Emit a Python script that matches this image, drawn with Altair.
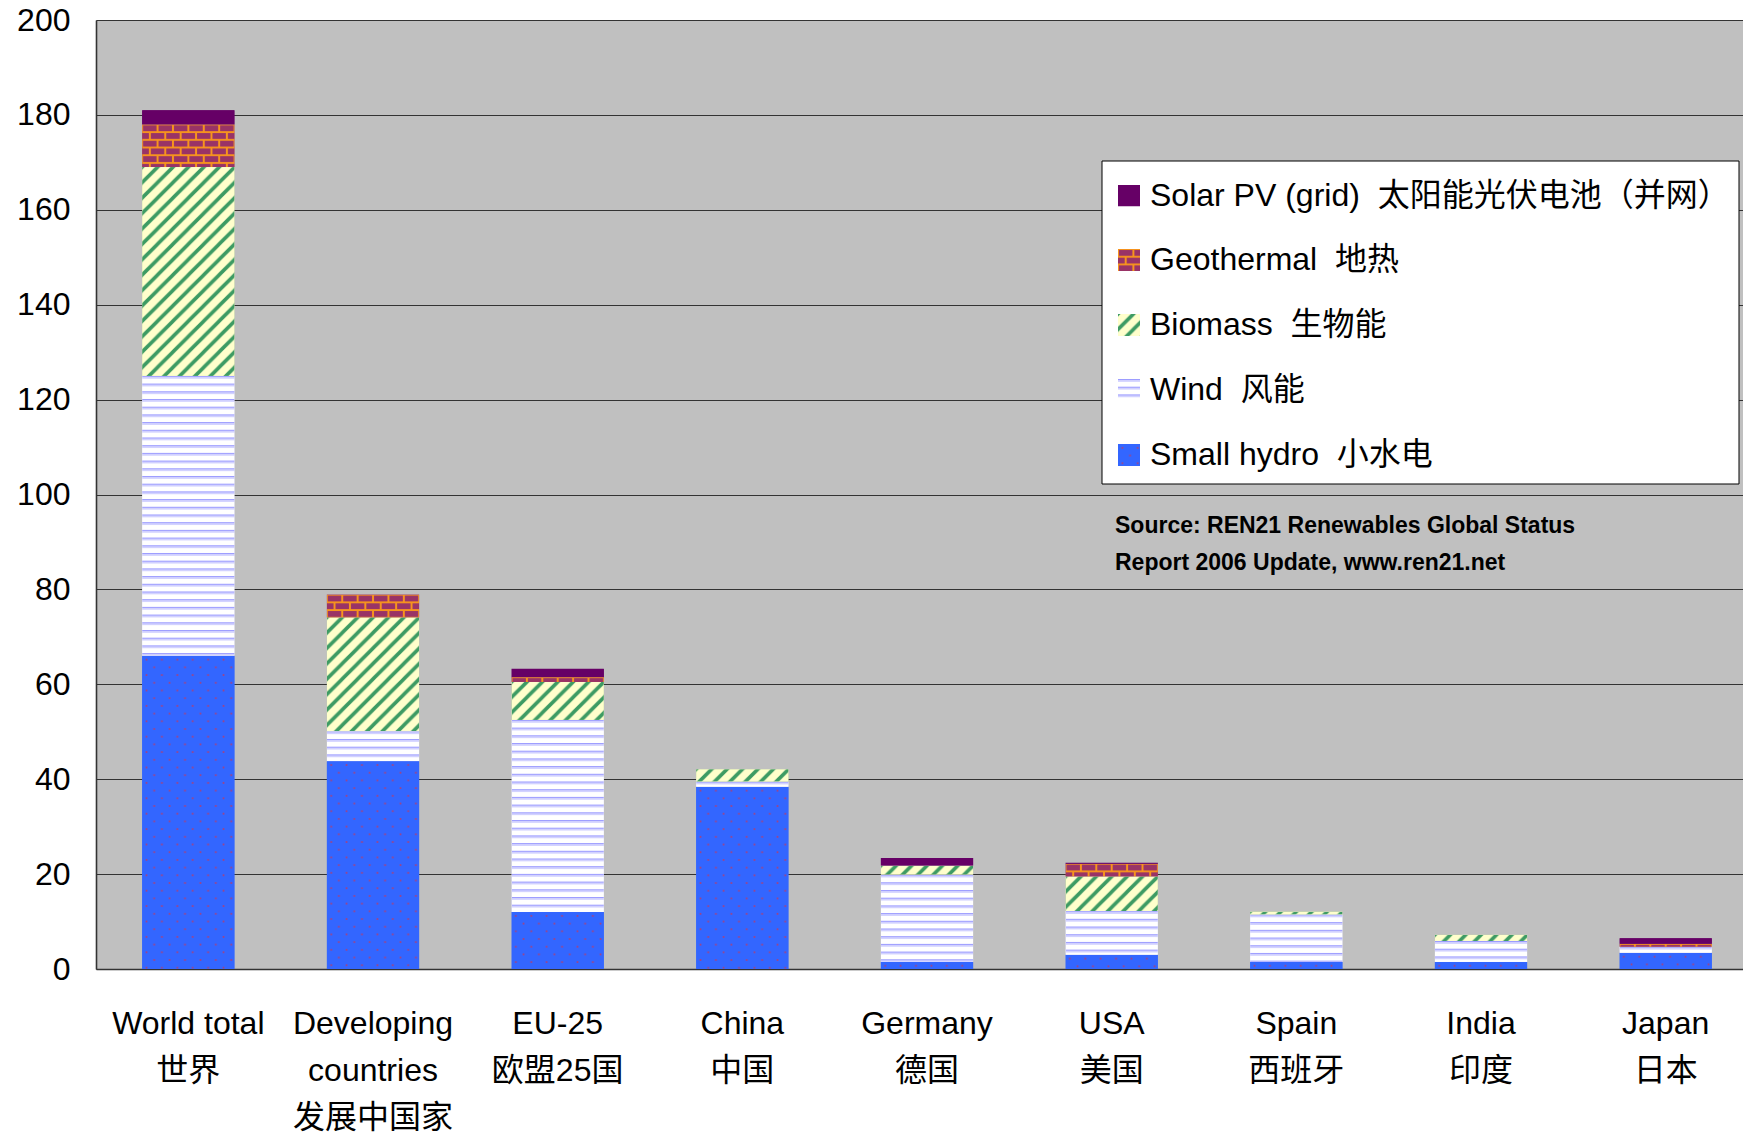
import altair as alt
import pandas as pd
from urllib.parse import quote

# ---------------- data ----------------
categories = [
    "World total\n世界",
    "Developing\ncountries\n发展中国家",
    "EU-25\n欧盟25国",
    "China\n中国",
    "Germany\n德国",
    "USA\n美国",
    "Spain\n西班牙",
    "India\n印度",
    "Japan\n日本",
]
sources = ["Small hydro", "Wind", "Biomass", "Geothermal", "Solar PV (grid)"]
small_hydro = [66, 43.8, 12, 38.4, 1.5, 3.0, 1.5, 1.5, 3.4]
wind = [59, 6.3, 40.5, 1.1, 18.4, 9.2, 10.0, 4.4, 1.3]
biomass = [44, 24, 8.0, 2.6, 1.9, 7.3, 0.6, 1.3, 0.0]
geothermal = [9, 4.8, 1.0, 0.0, 0.0, 2.7, 0.0, 0.0, 0.6]
solar_pv = [3, 0.0, 1.8, 0.0, 1.6, 0.2, 0.0, 0.0, 1.2]
NB = "\u00a0\u00a0"
legend_labels = [
    "Solar PV (grid)" + NB + "太阳能光伏电池（并网）",
    "Geothermal" + NB + "地热",
    "Biomass" + NB + "生物能",
    "Wind" + NB + "风能",
    "Small hydro" + NB + "小水电",
]
legend_sources = ["Solar PV (grid)", "Geothermal", "Biomass", "Wind", "Small hydro"]
source_note = ["Source: REN21 Renewables Global Status", "Report 2006 Update, www.ren21.net"]
y_ticks = [0, 20, 40, 60, 80, 100, 120, 140, 160, 180, 200]

# ---------------- table built from the arrays ----------------
series = [small_hydro, wind, biomass, geothermal, solar_pv]
rows = []
for ci, cat in enumerate(categories):
    base = 0.0
    for si, src in enumerate(sources):
        v = series[si][ci]
        rows.append(dict(category=cat, source=src, value=v, start=base, end=base + v))
        base += v
df = pd.DataFrame(rows)
df = df[df["value"] > 0].reset_index(drop=True)

# ---------------- fill patterns (SVG images tiled in pixels) ----------------
def svg_url(defs, fill="url(#p)"):
    svg = ("<svg xmlns='http://www.w3.org/2000/svg' width='100%' height='100%'>"
           f"<defs>{defs}</defs><rect width='100%' height='100%' fill='{fill}'/></svg>")
    return "data:image/svg+xml;charset=utf-8," + quote(svg)

patterns = {
    "Small hydro": svg_url(
        "<pattern id='p' width='15.4' height='15.4' patternUnits='userSpaceOnUse'>"
        "<rect width='16' height='16' fill='#3366ff'/>"
        "<rect x='3.5' y='3' width='1.7' height='1.7' fill='#a8407c'/>"
        "<rect x='11.2' y='10.7' width='1.7' height='1.7' fill='#a8407c'/>"
        "</pattern>"),
    "Wind": svg_url(
        "<pattern id='p' width='16' height='7.7' patternUnits='userSpaceOnUse'>"
        "<rect width='16' height='7.7' fill='#ffffff'/>"
        "<rect y='0' width='16' height='1.4' fill='#9c9cff'/>"
        "<rect y='1.4' width='16' height='1.4' fill='#cfcfff'/>"
        "</pattern>"),
    "Biomass": svg_url(
        "<pattern id='p' width='15.4' height='15.4' patternUnits='userSpaceOnUse'>"
        "<rect width='15.4' height='15.4' fill='#ffffcc'/>"
        "<path d='M-3.85,3.85 L3.85,-3.85 M-1,16.4 L16.4,-1 M11.55,19.25 L19.25,11.55' "
        "stroke='#3d9b63' stroke-width='3.6'/>"
        "</pattern>"),
    "Geothermal": svg_url(
        "<pattern id='p' width='15.4' height='15.4' patternUnits='userSpaceOnUse'>"
        "<rect width='15.4' height='15.4' fill='#f7941d'/>"
        "<rect x='1' y='1' width='13.4' height='5.8' fill='#993366'/>"
        "<rect x='-6.7' y='8.7' width='13.4' height='5.8' fill='#993366'/>"
        "<rect x='8.7' y='8.7' width='13.4' height='5.8' fill='#993366'/>"
        "</pattern>"),
    "Solar PV (grid)": svg_url("", fill="#660066"),
}
fallback_colors = ["#3366ff", "#e6e6ff", "#c8e0a8", "#b04a5a", "#660066"]

FONT = "Liberation Sans, Arial, Noto Sans CJK SC, sans-serif"

x_enc = alt.X(
    "category:N",
    sort=categories,
    scale=alt.Scale(range=[0, 1662], paddingInner=0.5, paddingOuter=0.25),
    axis=alt.Axis(
        title=None, labelAngle=0, labelExpr="split(datum.label, '\\n')",
        labelFontSize=32, labelLineHeight=47, labelPadding=39, labelLimit=500,
        ticks=False, tickSize=0, domain=True, domainColor="#333333", domainWidth=1.6,
        grid=False, labelColor="black", labelFont=FONT,
    ),
)
y_enc = alt.Y(
    "end:Q",
    scale=alt.Scale(domain=[0, 200], nice=False),
    axis=alt.Axis(
        title=None, values=y_ticks, labelFontSize=32, labelPadding=26,
        ticks=False, tickSize=0, grid=True, gridColor="#333333", gridWidth=1.2,
        domain=True, domainColor="#333333", domainWidth=1.6,
        labelColor="black", labelFont=FONT,
    ),
)

layers = []
bars = alt.Chart(df).mark_bar().encode(
    x=x_enc, y=y_enc, y2="start:Q",
    color=alt.Color("source:N", scale=alt.Scale(domain=sources, range=fallback_colors), legend=None),
)
layers.append(bars)
for src in sources:
    layers.append(
        alt.Chart(df).transform_filter(alt.datum.source == src)
        .mark_image(aspect=False)
        .encode(x=x_enc, y=y_enc, y2="start:Q", url=alt.value(patterns[src]))
    )

# ---------------- manual legend ----------------
one = pd.DataFrame({"k": [0]})
layers.append(
    alt.Chart(one).mark_rect(fill="white", stroke="black", strokeWidth=1).encode(
        x=alt.value(1006), x2=alt.value(1643), y=alt.value(141), y2=alt.value(464)
    )
)
row_y = [175.5, 240, 305, 370, 435]
for lab, src, yc in zip(legend_labels, legend_sources, row_y):
    layers.append(
        alt.Chart(one).mark_image(aspect=False).encode(
            x=alt.value(1022), x2=alt.value(1044), y=alt.value(yc - 11), y2=alt.value(yc + 11),
            url=alt.value(patterns[src]),
        )
    )
    layers.append(
        alt.Chart(one).mark_text(align="left", baseline="middle", fontSize=32, font=FONT, color="black")
        .encode(x=alt.value(1054), y=alt.value(yc), text=alt.value(lab))
    )

layers.append(
    alt.Chart(one).mark_text(align="left", baseline="middle", fontSize=23, fontWeight="bold",
                             font=FONT, color="black", lineHeight=37)
    .encode(x=alt.value(1019), y=alt.value(506), text=alt.value(source_note))
)

chart = (
    alt.layer(*layers)
    .properties(
        width=1647, height=949,
        autosize=alt.AutoSizeParams(type="none"),
        padding={"left": 88, "top": 12, "right": 0, "bottom": 166},
        background="white",
    )
    .configure(font=FONT)
    .configure_view(fill="#c0c0c0", stroke=None)
)

chart.save("out.html", embed_options={"renderer": "svg", "actions": False})
